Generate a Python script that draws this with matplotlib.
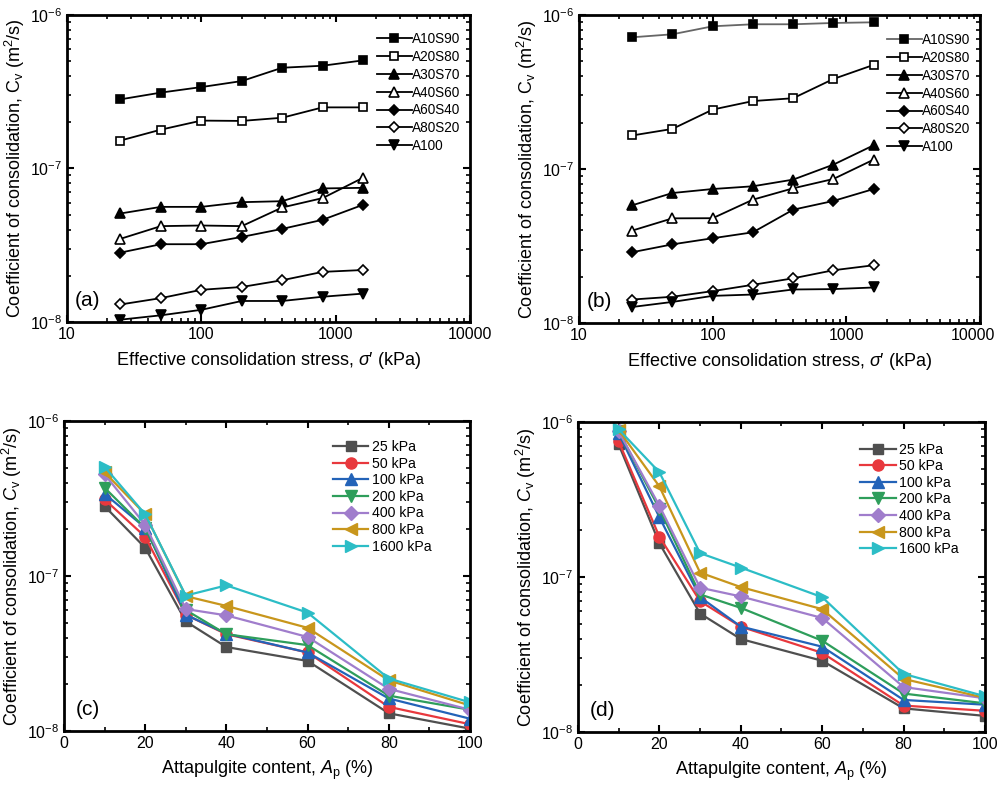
import numpy as np
import matplotlib
matplotlib.use('Agg')
import matplotlib.pyplot as plt
import matplotlib.transforms as mtrans
from matplotlib.ticker import FixedLocator, LogLocator, NullFormatter

plt.rcParams['font.family'] = ['Liberation Sans', 'DejaVu Sans']
plt.rcParams['mathtext.fontset'] = 'custom'
plt.rcParams['mathtext.rm'] = 'Liberation Sans'
plt.rcParams['mathtext.it'] = 'Liberation Sans:italic'
plt.rcParams['axes.unicode_minus'] = False

# stresses (kPa) and attapulgite contents (%)
stress = [25, 50, 100, 200, 400, 800, 1600]
content = [10, 20, 30, 40, 60, 80, 100]
mixes = ['A10S90', 'A20S80', 'A30S70', 'A40S60', 'A60S40', 'A80S20', 'A100']
stress_labels = ['25 kPa', '50 kPa', '100 kPa', '200 kPa', '400 kPa', '800 kPa', '1600 kPa']

# panel (a) Cv, m2/s
a_A10S90 = [2.82e-7, 3.12e-7, 3.39e-7, 3.71e-7, 4.53e-7, 4.67e-7, 5.06e-7]
a_A20S80 = [1.52e-7, 1.79e-7, 2.05e-7, 2.04e-7, 2.14e-7, 2.50e-7, 2.50e-7]
a_A30S70 = [5.09e-8, 5.62e-8, 5.62e-8, 6.03e-8, 6.12e-8, 7.41e-8, 7.48e-8]
a_A40S60 = [3.48e-8, 4.21e-8, 4.25e-8, 4.21e-8, 5.57e-8, 6.41e-8, 8.70e-8]
a_A60S40 = [2.83e-8, 3.21e-8, 3.21e-8, 3.58e-8, 4.04e-8, 4.63e-8, 5.80e-8]
a_A80S20 = [1.30e-8, 1.43e-8, 1.62e-8, 1.69e-8, 1.87e-8, 2.12e-8, 2.18e-8]
a_A100 = [1.035e-8, 1.105e-8, 1.20e-8, 1.37e-8, 1.37e-8, 1.46e-8, 1.53e-8]

# panel (b) Cv, m2/s
b_A10S90 = [7.16e-7, 7.49e-7, 8.44e-7, 8.70e-7, 8.70e-7, 8.87e-7, 8.96e-7]
b_A20S80 = [1.65e-7, 1.82e-7, 2.43e-7, 2.76e-7, 2.88e-7, 3.84e-7, 4.74e-7]
b_A30S70 = [5.81e-8, 6.98e-8, 7.41e-8, 7.72e-8, 8.53e-8, 1.067e-7, 1.425e-7]
b_A40S60 = [3.98e-8, 4.78e-8, 4.79e-8, 6.32e-8, 7.49e-8, 8.61e-8, 1.15e-7]
b_A60S40 = [2.88e-8, 3.24e-8, 3.55e-8, 3.88e-8, 5.44e-8, 6.20e-8, 7.41e-8]
b_A80S20 = [1.42e-8, 1.48e-8, 1.61e-8, 1.77e-8, 1.95e-8, 2.20e-8, 2.37e-8]
b_A100 = [1.27e-8, 1.37e-8, 1.50e-8, 1.53e-8, 1.65e-8, 1.66e-8, 1.70e-8]

data_a = [a_A10S90, a_A20S80, a_A30S70, a_A40S60, a_A60S40, a_A80S20, a_A100]
data_b = [b_A10S90, b_A20S80, b_A30S70, b_A40S60, b_A60S40, b_A80S20, b_A100]

mix_markers = ['s', 's', '^', '^', 'D', 'D', 'v']
mix_fill = ['k', 'w', 'k', 'w', 'k', 'w', 'k']
mix_msize = [6, 6, 6.5, 6.5, 5.5, 5.5, 6.5]

st_colors = ['#4f4f4f', '#e8383d', '#2363b8', '#2e9e5b', '#a07dcc', '#c8961c', '#2cbdc6']
st_markers = ['s', 'o', '^', 'v', 'D', '<', '>']
st_msize = [7, 8, 8, 8, 7, 8, 8]

cv_label = 'Coefficient of consolidation, C$_\\mathrm{v}$ (m$^2$/s)'
cv_label_it = 'Coefficient of consolidation, $C_\\mathrm{v}$ (m$^2$/s)'

fig = plt.figure(figsize=(9.97, 7.87), dpi=100)
axA = fig.add_axes([0.0672, 0.5909, 0.4042, 0.3901])
axB = fig.add_axes([0.5807, 0.5896, 0.4023, 0.3914])
axC = fig.add_axes([0.0642, 0.0712, 0.4072, 0.3938])
axD = fig.add_axes([0.5797, 0.0699, 0.4083, 0.3939])


def style_axes(ax):
    ax.set_yscale('log')
    ax.set_ylim(1e-8, 1e-6)
    for sp in ax.spines.values():
        sp.set_linewidth(2)
    ax.tick_params(which='both', direction='in', top=True, right=True, labelsize=11.5)
    ax.tick_params(which='major', length=5, width=1.5)
    ax.tick_params(which='minor', length=3, width=1.2)
    ax.yaxis.set_minor_locator(LogLocator(base=10, subs=np.arange(2, 10)))
    ax.yaxis.set_minor_formatter(NullFormatter())


for ax, data, tag, anchor in [(axA, data_a, '(a)', (1.0, 0.975)), (axB, data_b, '(b)', (1.0, 0.972))]:
    style_axes(ax)
    for i, name in enumerate(mixes):
        lc = 'k'
        if ax is axB and i == 0:
            lc = '#666666'
        ax.plot(stress, data[i], color=lc, lw=1.3, marker=mix_markers[i],
                ms=mix_msize[i], mfc=mix_fill[i], mec='k', mew=1.2, label=name)
    ax.set_xscale('log')
    ax.set_xlim(10, 10000)
    ax.xaxis.set_minor_locator(LogLocator(base=10, subs=np.arange(2, 10)))
    ax.xaxis.set_minor_formatter(NullFormatter())
    ax.set_xticks([10, 100, 1000, 10000])
    ax.set_xticklabels(['10', '100', '1000', '10000'])
    ax.set_xlabel("Effective consolidation stress, $\\sigma$\u2032 (kPa)", fontsize=13, labelpad=6)
    ax.set_ylabel(cv_label, fontsize=13, labelpad=2)
    ax.text(0.02, 0.04, tag, transform=ax.transAxes, fontsize=15, ha='left', va='bottom')
    ax.legend(loc='upper right', bbox_to_anchor=anchor, frameon=False, fontsize=9.8,
              handlelength=2.6, handletextpad=0.0, labelspacing=0.28, borderaxespad=0.3)

# keep the last stress label of (b) inside the figure, as in the reference
last = axB.get_xticklabels()[-1]
last.set_transform(last.get_transform() + mtrans.ScaledTranslation(-0.07, 0, fig.dpi_scale_trans))

# panels (c) and (d): same results against attapulgite content
for ax, data, tag, anchor in [(axC, data_a, '(c)', (0.93, 0.97)), (axD, data_b, '(d)', (0.96, 0.965))]:
    style_axes(ax)
    arr = np.array(data)
    for j, lab in enumerate(stress_labels):
        ax.plot(content, arr[:, j], color=st_colors[j], lw=1.6, marker=st_markers[j],
                ms=st_msize[j], mfc=st_colors[j], mec=st_colors[j], label=lab)
    ax.set_xlim(0, 100)
    ax.set_xticks([0, 20, 40, 60, 80, 100])
    ax.xaxis.set_minor_locator(FixedLocator([10, 30, 50, 70, 90]))
    ax.set_xlabel('Attapulgite content, $A_\\mathrm{p}$ (%)', fontsize=13, labelpad=6)
    ax.set_ylabel(cv_label_it, fontsize=13, labelpad=2)
    ax.text(0.03, 0.04, tag, transform=ax.transAxes, fontsize=15, ha='left', va='bottom')
    ax.legend(loc='upper right', bbox_to_anchor=anchor, frameon=False, fontsize=10.2,
              handlelength=2.5, handletextpad=0.25, labelspacing=0.18, borderaxespad=0.3)

fig.savefig('out.png', dpi=100)
